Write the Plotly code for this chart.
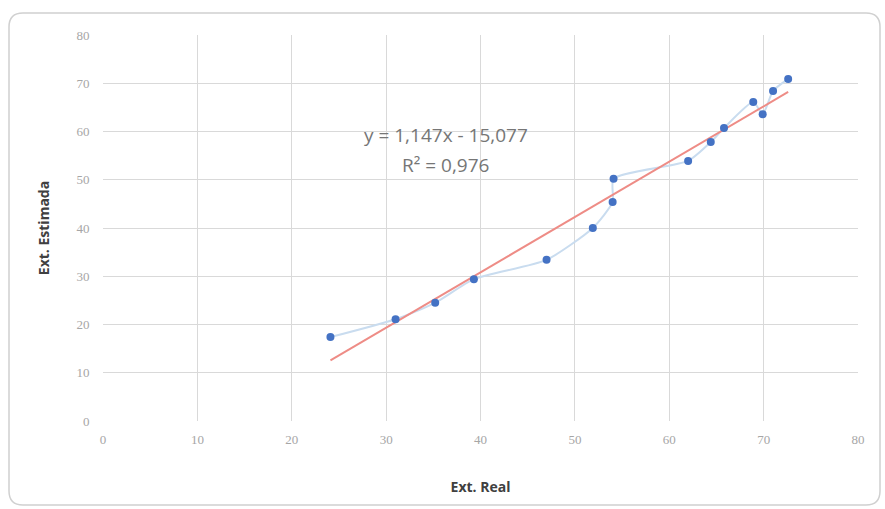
import plotly.graph_objects as go

ext_real = [24.1, 31.0, 35.2, 39.3, 47.0, 51.9, 54.0, 54.1, 62.0, 64.4, 65.8, 68.9, 69.9, 71.0, 72.6]
ext_estimada = [17.4, 21.1, 24.5, 29.4, 33.4, 40.0, 45.4, 50.2, 53.9, 57.8, 60.7, 66.1, 63.6, 68.4, 70.9]
slope = 1.147
intercept = -15.077
r2 = 0.976
x_ticks = [0, 10, 20, 30, 40, 50, 60, 70, 80]
y_ticks = [0, 10, 20, 30, 40, 50, 60, 70, 80]

W, H = 885, 509
L, R, T, B = 103, 858, 35, 421

def px2paper(px, py):
    return (px - L) / (R - L), (B - py) / (B - T)

fig = go.Figure()
fig.add_trace(go.Scatter(
    x=ext_real, y=ext_estimada, mode="lines",
    line=dict(color="#C9DCEF", width=2, shape="spline", smoothing=0.6),
    hoverinfo="skip", showlegend=False))
tx = [min(ext_real), max(ext_real)]
fig.add_trace(go.Scatter(
    x=tx, y=[slope * v + intercept for v in tx], mode="lines",
    line=dict(color="#EE8C86", width=2), showlegend=False))
fig.add_trace(go.Scatter(
    x=ext_real, y=ext_estimada, mode="markers",
    marker=dict(color="#4472C4", size=8), showlegend=False))

# rounded chart border
x0, y0 = px2paper(9, 13)
x1, y1 = px2paper(880, 505)
rx = 14 / (R - L)
ry = 14 / (B - T)
path = (f"M {x0+rx},{y0} L {x1-rx},{y0} Q {x1},{y0} {x1},{y0-ry} "
        f"L {x1},{y1+ry} Q {x1},{y1} {x1-rx},{y1} L {x0+rx},{y1} "
        f"Q {x0},{y1} {x0},{y1+ry} L {x0},{y0-ry} Q {x0},{y0} {x0+rx},{y0} Z")
fig.add_shape(type="path", path=path, xref="paper", yref="paper",
              line=dict(color="#D0D0D0", width=1.5), layer="below")

eq = f"y = {str(slope).replace('.', ',')}x - {str(-intercept).replace('.', ',')}"
r2t = f"R² = {str(r2).replace('.', ',')}"
fig.add_annotation(x=36.3, y=59.3, text=eq, showarrow=False,
                   font=dict(family="Open Sans, sans-serif", size=19, color="#767676"))
fig.add_annotation(x=36.3, y=53.1, text=r2t, showarrow=False,
                   font=dict(family="Open Sans, sans-serif", size=19, color="#767676"))

tickfont = dict(family="Liberation Serif, serif", size=13, color="#A6A6A6")
fig.update_layout(
    width=W, height=H,
    margin=dict(l=L, r=W - R, t=T, b=H - B),
    paper_bgcolor="white", plot_bgcolor="white",
    xaxis=dict(range=[0, 80], tickvals=x_ticks, showgrid=True, gridcolor="#D9D9D9",
               gridwidth=1, zeroline=False, showline=False,
               ticks="outside", ticklen=6, tickcolor="rgba(0,0,0,0)",
               tickfont=tickfont,
               title=dict(text="<b>Ext. Real</b>", standoff=36,
                          font=dict(family="Open Sans, sans-serif", size=14, color="#404040"))),
    yaxis=dict(range=[0, 80], tickvals=y_ticks, showgrid=True, gridcolor="#D9D9D9",
               gridwidth=1, zeroline=False, showline=False,
               ticks="outside", ticklen=10, tickcolor="rgba(0,0,0,0)",
               tickfont=tickfont,
               title=dict(text="<b>Ext. Estimada</b>", standoff=23,
                          font=dict(family="Open Sans, sans-serif", size=14, color="#404040"))),
)
fig.write_html("out.html")
